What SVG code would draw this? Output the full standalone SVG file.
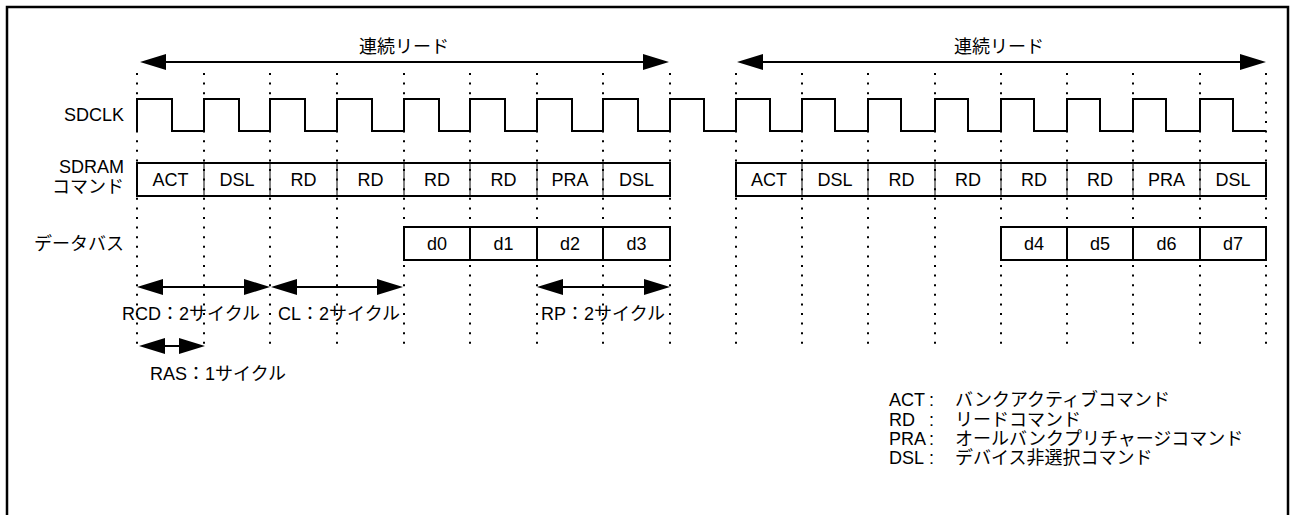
<svg xmlns="http://www.w3.org/2000/svg" width="1292" height="515" viewBox="0 0 1292 515">
<style>
.t{font-family:"Liberation Sans","Noto Sans CJK JP",sans-serif;font-size:18px;fill:#000}
.m{text-anchor:middle}
.e{text-anchor:end}
.grid{stroke:#000;stroke-width:2;stroke-dasharray:2 7.6;fill:none}
.ln{stroke:#000;stroke-width:2;fill:none}
.sep{stroke:#000;stroke-width:1;fill:none}
.arr{stroke:#000;stroke-width:2;fill:none;marker-start:url(#ah);marker-end:url(#ah)}
</style>
<defs>
<marker id="ah" viewBox="0 0 26 16" refX="20" refY="8" markerWidth="26" markerHeight="16" markerUnits="userSpaceOnUse" orient="auto-start-reverse">
<path d="M0,0 L26,8 L0,16 z" fill="#000"/>
</marker>
</defs>
<rect width="1292" height="515" fill="#fff"/>
<rect id="frame" x="7" y="7" width="1281" height="530" fill="none" stroke="#000" stroke-width="2.5"/>

<g id="grid">
<line class="grid" x1="137" y1="73" x2="137" y2="345"/>
<line class="grid" x1="204" y1="73" x2="204" y2="345"/>
<line class="grid" x1="270" y1="73" x2="270" y2="345"/>
<line class="grid" x1="337" y1="73" x2="337" y2="345"/>
<line class="grid" x1="404" y1="73" x2="404" y2="345"/>
<line class="grid" x1="470" y1="73" x2="470" y2="345"/>
<line class="grid" x1="537" y1="73" x2="537" y2="345"/>
<line class="grid" x1="603" y1="73" x2="603" y2="345"/>
<line class="grid" x1="670" y1="73" x2="670" y2="345"/>
<line class="grid" x1="736" y1="73" x2="736" y2="345"/>
<line class="grid" x1="802" y1="73" x2="802" y2="345"/>
<line class="grid" x1="868" y1="73" x2="868" y2="345"/>
<line class="grid" x1="935" y1="73" x2="935" y2="345"/>
<line class="grid" x1="1001" y1="73" x2="1001" y2="345"/>
<line class="grid" x1="1067" y1="73" x2="1067" y2="345"/>
<line class="grid" x1="1133" y1="73" x2="1133" y2="345"/>
<line class="grid" x1="1200" y1="73" x2="1200" y2="345"/>
<line class="grid" x1="1266" y1="73" x2="1266" y2="345"/>
</g>

<g id="row-labels">
<text class="t e" x="124" y="121">SDCLK</text>
<text class="t e" x="124" y="173">SDRAM</text>
<text class="t e" x="124" y="193">コマンド</text>
<text class="t e" x="124" y="250">データバス</text>
</g>

<g id="sdclk">
<path class="ln" d="M137,131 V99 H172 V131 H204 V99 H239 V131 H270 V99 H305 V131 H337 V99 H372 V131 H404 V99 H439 V131 H470 V99 H505 V131 H537 V99 H572 V131 H603 V99 H638 V131 H670 V99 H704 V131 H736 V99 H770 V131 H802 V99 H835 V131 H868 V99 H901 V131 H935 V99 H968 V131 H1001 V99 H1034 V131 H1067 V99 H1100 V131 H1133 V99 H1166 V131 H1200 V99 H1233 V131 H1266"/>
</g>

<g id="cmd1">
<path class="ln" d="M137,163 H670 V196 H137 Z"/>
<path class="sep" d="M204,163V196M270,163V196M337,163V196M404,163V196M470,163V196M537,163V196M603,163V196"/>
<text class="t m" x="170.5" y="186">ACT</text>
<text class="t m" x="237" y="186">DSL</text>
<text class="t m" x="303.5" y="186">RD</text>
<text class="t m" x="370.5" y="186">RD</text>
<text class="t m" x="437" y="186">RD</text>
<text class="t m" x="503.5" y="186">RD</text>
<text class="t m" x="570" y="186">PRA</text>
<text class="t m" x="636.5" y="186">DSL</text>
</g>

<g id="cmd2">
<path class="ln" d="M736,163 H1266 V196 H736 Z"/>
<path class="sep" d="M802,163V196M868,163V196M935,163V196M1001,163V196M1067,163V196M1133,163V196M1200,163V196"/>
<text class="t m" x="769" y="186">ACT</text>
<text class="t m" x="835" y="186">DSL</text>
<text class="t m" x="901.5" y="186">RD</text>
<text class="t m" x="968" y="186">RD</text>
<text class="t m" x="1034" y="186">RD</text>
<text class="t m" x="1100" y="186">RD</text>
<text class="t m" x="1166.5" y="186">PRA</text>
<text class="t m" x="1233" y="186">DSL</text>
</g>

<g id="data1">
<path class="ln" d="M404,227 H670 V260 H404 Z M470,227V260 M537,227V260 M603,227V260"/>
<text class="t m" x="437" y="250">d0</text>
<text class="t m" x="503.5" y="250">d1</text>
<text class="t m" x="570" y="250">d2</text>
<text class="t m" x="636.5" y="250">d3</text>
</g>

<g id="data2">
<path class="ln" d="M1001,227 H1266 V260 H1001 Z M1067,227V260 M1133,227V260 M1200,227V260"/>
<text class="t m" x="1034" y="250">d4</text>
<text class="t m" x="1100" y="250">d5</text>
<text class="t m" x="1166.5" y="250">d6</text>
<text class="t m" x="1233" y="250">d7</text>
</g>

<g id="connectors">
<line class="arr" x1="146" y1="62" x2="663" y2="62"/>
<line class="arr" x1="743" y1="62" x2="1260" y2="62"/>
<line class="arr" x1="143" y1="287" x2="264" y2="287"/>
<line class="arr" x1="277" y1="287" x2="397" y2="287"/>
<line class="arr" x1="543" y1="287" x2="664" y2="287"/>
<line class="arr" x1="145" y1="346" x2="199" y2="346"/>
</g>

<g id="arrow-labels">
<text class="t m" x="404" y="53">連続リード</text>
<text class="t m" x="999" y="53">連続リード</text>
<text class="t" x="122" y="320">RCD：2サイクル</text>
<text class="t" x="278" y="320">CL：2サイクル</text>
<text class="t" x="541" y="320">RP：2サイクル</text>
<text class="t" x="150" y="380">RAS：1サイクル</text>
</g>

<g id="legend">
<text class="t" y="406"><tspan x="889">ACT</tspan><tspan x="929">:</tspan><tspan x="955">バンクアクティブコマンド</tspan></text>
<text class="t" y="425.5"><tspan x="889">RD</tspan><tspan x="929">:</tspan><tspan x="955">リードコマンド</tspan></text>
<text class="t" y="445"><tspan x="889">PRA</tspan><tspan x="929">:</tspan><tspan x="955">オールバンクプリチャージコマンド</tspan></text>
<text class="t" y="464"><tspan x="889">DSL</tspan><tspan x="929">:</tspan><tspan x="955">デバイス非選択コマンド</tspan></text>
</g>
</svg>
